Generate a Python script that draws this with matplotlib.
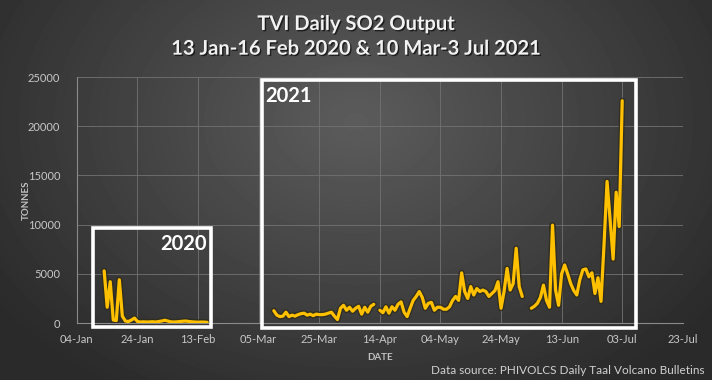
import matplotlib
matplotlib.use("Agg")
import matplotlib.pyplot as plt
import matplotlib.dates as mdates
import matplotlib.patheffects as pe
from matplotlib.patches import Rectangle
import numpy as np
import pandas as pd

plt.rcParams['font.family'] = ['Lato', 'DejaVu Sans']

# daily SO2 (tonnes), 13 Jan - 16 Feb 2020
dates_2020 = pd.date_range('2020-01-13', '2020-02-16', freq='D')
so2_2020 = [5300, 1600, 4200, 300, 250, 4400, 700, 200, 150, 300,
            500, 150, 100, 120, 100, 110, 130, 100, 150, 200,
            280, 200, 120, 100, 120, 150, 180, 200, 150, 120,
            100, 80, 100, 90, 70]

# daily SO2 (tonnes), 10 Mar - 3 Jul 2021 (nan = no bulletin)
dates_2021 = pd.date_range('2021-03-10', '2021-07-03', freq='D')
so2_2021 = [1250, 800, 650, 700, 1100, 650, 800, 700, 850, 950,
            1000, 800, 900, 750, 900, 850, 850, 900, 1000, 1100,
            700, 350, 1500, 1800, 1300, 1600, 1200, 1500, 1700, 900,
            1600, 1100, 1700, 1900, np.nan, 1300, 1050, 1650, 1000, 1650,
            1300, 1900, 2150, 1100, 650, 1500, 2300, 2700, 3200, 2600,
            1500, 2000, 2100, 1300, 1600, 1600, 1400, 1400, 1650, 2300,
            2700, 2300, 5100, 3200, 2500, 3700, 2850, 3500, 3200, 3350,
            3200, 2700, 3000, 3300, 4200, 1500, 3200, 5550, 3350, 4000,
            7600, 3700, 2700, np.nan, np.nan, 1500, 1700, 2000, 2600, 3850,
            2300, 1600, 9950, 3350, 1800, 5000, 5900, 5000, 4000, 3300,
            2850, 4400, 5400, 5500, 4700, 5100, 3000, 4600, 2200, 8000,
            14400, 10500, 6500, 13300, 9800, 22600]

# both periods share one Jan-Jul axis
x_2020 = dates_2020 + pd.DateOffset(years=1)
x_2021 = dates_2021
x_ticks = pd.date_range('2021-01-04', '2021-07-23', freq='20D')
y_ticks = [0, 5000, 10000, 15000, 20000, 25000]

fig = plt.figure(figsize=(7.12, 3.80), dpi=100)
fig.patch.set_facecolor('#3a3a3a')

# radial grey background
bg = fig.add_axes([0, 0, 1, 1], zorder=-10)
yy, xx = np.mgrid[0:1:380j, 0:1:712j]
r = np.sqrt(((xx - 0.5) / 0.62) ** 2 + ((yy - 0.32) / 0.85) ** 2)
bg.imshow(92 - 50 * np.clip(r, 0, 1), cmap='gray', vmin=0, vmax=255,
          aspect='auto', extent=[0, 1, 0, 1])
bg.axis('off')

ax = fig.add_axes([0.108, 0.15, 0.851, 0.647])
ax.set_facecolor('none')

line_fx = [pe.Stroke(linewidth=4.4, foreground='#2e2a1a', alpha=0.75), pe.Normal()]
ax.plot(x_2020, so2_2020, color='#FFC000', lw=2.3, solid_capstyle='round',
        path_effects=line_fx, zorder=3)
ax.plot(x_2021, so2_2021, color='#FFC000', lw=2.3, solid_capstyle='round',
        path_effects=line_fx, zorder=3)

ax.set_xlim(x_ticks[0], x_ticks[-1])
ax.set_ylim(0, 25000)
ax.set_xticks(x_ticks)
ax.xaxis.set_major_formatter(mdates.DateFormatter('%d-%b'))
ax.set_yticks(y_ticks)
ax.tick_params(colors='#c8c8c8', labelsize=8, length=0)
ax.tick_params(axis='x', pad=8)
ax.tick_params(axis='y', pad=12)
ax.grid(True, color='#727272', lw=0.6)
ax.set_axisbelow(True)
for s in ['top', 'right']:
    ax.spines[s].set_visible(False)
for s in ['left', 'bottom']:
    ax.spines[s].set_color('#8a8a8a')
    ax.spines[s].set_linewidth(0.8)

ax.set_ylabel('TONNES', color='#c0c0c0', fontsize=7, fontweight='bold', labelpad=-2)
ax.set_xlabel('DATE', color='#c0c0c0', fontsize=7, fontweight='bold', labelpad=6)

# boxes around each period
d0 = mdates.date2num(x_2020[0]) - 3.6
d1 = mdates.date2num(x_2020[-1]) + 1.4
ax.add_patch(Rectangle((d0, -440), d1 - d0, 10060, fill=False, ec='white',
                       lw=2.6, clip_on=False, zorder=4))
ax.text(d1 - 1.5, 9000, '2020', color='white', fontsize=14.5, fontweight='bold',
        ha='right', va='top', zorder=5)

e0 = mdates.date2num(x_2021[0]) - 4.0
e1 = mdates.date2num(x_2021[-1]) + 4.7
ax.add_patch(Rectangle((e0, -500), e1 - e0, 25200, fill=False, ec='white',
                       lw=2.6, clip_on=False, zorder=4))
ax.text(e0 + 1.2, 24100, '2021', color='white', fontsize=14.5, fontweight='bold',
        ha='left', va='top', zorder=5)

shadow = [pe.withSimplePatchShadow(offset=(1, -1), shadow_rgbFace='black', alpha=0.6)]
fig.text(0.5, 0.937, 'TVI Daily SO2 Output', ha='center', va='center',
         color='#f2f2f2', fontsize=14.5, fontweight='bold', path_effects=shadow)
fig.text(0.5, 0.872, '13 Jan-16 Feb 2020 & 10 Mar-3 Jul 2021', ha='center',
         va='center', color='#f2f2f2', fontsize=14.5, fontweight='bold',
         path_effects=shadow)
fig.text(0.99, 0.024, 'Data source: PHIVOLCS Daily Taal Volcano Bulletins',
         ha='right', va='center', color='#d0d0d0', fontsize=8.5)

fig.savefig('out.png', dpi=100, facecolor=fig.get_facecolor())
